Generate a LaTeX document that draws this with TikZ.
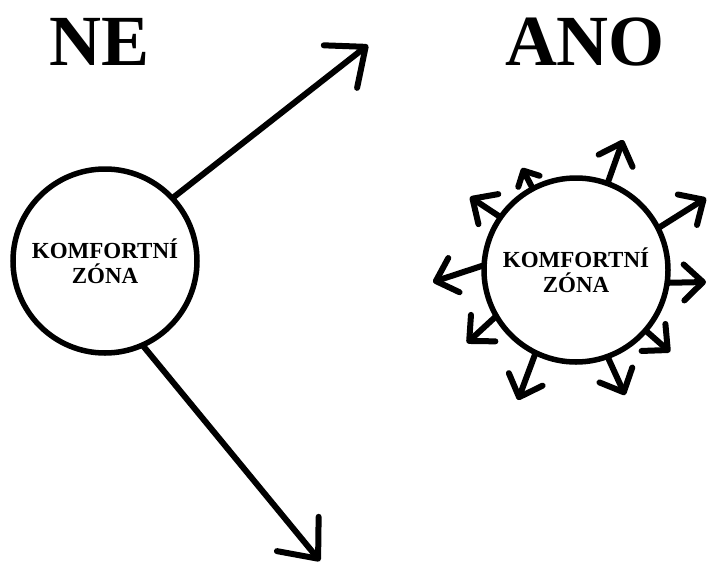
\documentclass[tikz,border=0pt]{standalone}
\usepackage{fontspec}
\setmainfont{Liberation Serif}
\usetikzlibrary{arrows.meta}
\begin{document}
\begin{tikzpicture}[x=1pt,y=-1pt,
  ring/.style={draw, circle, line width=5.5pt, minimum size=184pt, inner sep=0pt,
    outer sep=0pt, align=center, font=\bfseries\fontsize{23}{25}\selectfont},
  title/.style={font=\bfseries\fontsize{72}{72}\selectfont, anchor=base, inner sep=0pt},
  longarrow/.style={line width=6pt, -{Straight Barb[length=32pt,width=54pt,round]}},
  shortarrow/.style={line width=6pt, -{Straight Barb[length=19pt,width=36pt,round]}},
  tinyarrow/.style={line width=6pt, -{Straight Barb[length=12pt,width=24pt,round]}}
]
\useasboundingbox (0,0) rectangle (709,565);

% headings
\node[title] (ne) at (100,65) {NE};
\node[title] (ano) at (585,65) {ANO};

% the two comfort zones
\node[ring] (L) at (105,261) {KOMFORTNÍ\\ZÓNA};
\node[ring] (R) at (576,270) {KOMFORTNÍ\\ZÓNA};

% left: two long escapes
\coordinate (lu) at (368,45);
\coordinate (ld) at (320,561);
\draw[longarrow] (L.43) -- (lu);
\draw[longarrow] (L.-66) -- (ld);

% right: short steps all round
\coordinate (r1) at (623,140);
\coordinate (r2) at (522,168);
\coordinate (r3) at (470,197);
\coordinate (r4) at (433,282);
\coordinate (r5) at (467,343);
\coordinate (r6) at (518,400);
\coordinate (r7) at (625,395);
\coordinate (r8) at (670,352);
\coordinate (r9) at (706,282);
\coordinate (r10) at (706,198);
\draw[shortarrow] (R.70) -- (r1);
\draw[tinyarrow] (R.118) -- (r2);
\draw[shortarrow] (R.145) -- (r3);
\draw[shortarrow] (R.177) -- (r4);
\draw[shortarrow] (R.210) -- (r5);
\draw[shortarrow] (R.244) -- (r6);
\draw[shortarrow] (R.290) -- (r7);
\draw[shortarrow] (R.319) -- (r8);
\draw[shortarrow] (R.352) -- (r9);
\draw[shortarrow] (R.27) -- (r10);
\end{tikzpicture}
\end{document}
